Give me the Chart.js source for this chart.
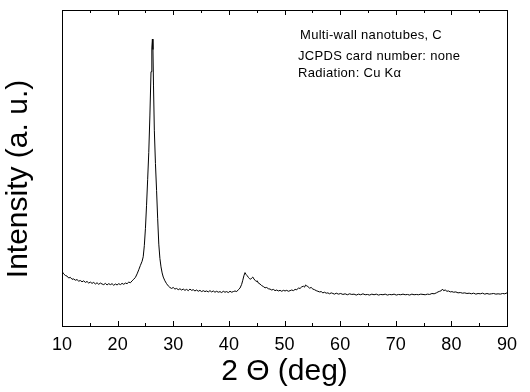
<!DOCTYPE html>
<html>
<head>
<meta charset="utf-8">
<script src="https://cdn.jsdelivr.net/npm/chart.js@4.4.1/dist/chart.umd.min.js"></script>
<style>
  html, body { margin: 0; padding: 0; background: #fff; }
  #wrap { width: 530px; height: 392px; position: relative; }
</style>
</head>
<body>
<div id="wrap"><canvas id="xrd"></canvas></div>
<script>
// XRD-Diagramm: Mehrwandige Nanoröhren (C), Cu K-alpha

const twoTheta = [
  10.0, 10.3, 10.6, 10.9, 11.2, 11.5, 11.8, 12.1, 12.4, 12.7, 13.0, 13.3, 13.6, 13.9,
  14.2, 14.5, 14.8, 15.1, 15.4, 15.7, 16.0, 16.3, 16.6, 16.9, 17.2, 17.5, 17.8, 18.1,
  18.4, 18.7, 19.0, 19.3, 19.6, 19.9, 20.2, 20.5, 20.8, 21.1, 21.4, 21.7, 22.0, 22.3,
  22.6, 22.9, 23.2, 23.5, 23.8, 24.1, 24.4, 24.6, 24.8, 25.0, 25.2, 25.4, 25.6, 25.8,
  26.0, 26.15, 26.25, 26.35, 26.45, 26.6, 26.8, 27.0, 27.2, 27.4, 27.6, 27.8, 28.0, 28.2,
  28.5, 28.8, 29.1, 29.4, 29.7, 30.0, 30.3, 30.6, 30.9, 31.2, 31.5, 31.8, 32.1, 32.4,
  32.7, 33.0, 33.3, 33.6, 33.9, 34.2, 34.5, 34.8, 35.1, 35.4, 35.7, 36.0, 36.3, 36.6,
  36.9, 37.2, 37.5, 37.8, 38.1, 38.4, 38.7, 39.0, 39.3, 39.6, 39.9, 40.2, 40.5, 40.8,
  41.1, 41.4, 41.7, 42.0, 42.3, 42.5, 42.7, 42.9, 43.1, 43.3, 43.5, 43.7, 43.9, 44.1,
  44.3, 44.5, 44.7, 44.9, 45.1, 45.3, 45.6, 45.9, 46.2, 46.5, 46.8, 47.1, 47.4, 47.7,
  48.0, 48.3, 48.6, 48.9, 49.2, 49.5, 49.8, 50.1, 50.4, 50.7, 51.0, 51.3, 51.6, 51.9,
  52.2, 52.5, 52.8, 53.1, 53.4, 53.6, 53.8, 54.0, 54.2, 54.5, 54.8, 55.1, 55.4, 55.7,
  56.0, 56.3, 56.6, 56.9, 57.2, 57.5, 57.8, 58.1, 58.4, 58.7, 59.0, 59.3, 59.7, 60.1,
  60.5, 60.9, 61.3, 61.7, 62.1, 62.5, 62.9, 63.3, 63.7, 64.1, 64.5, 64.9, 65.3, 65.7,
  66.1, 66.5, 66.9, 67.3, 67.7, 68.1, 68.5, 68.9, 69.3, 69.7, 70.1, 70.5, 70.9, 71.3,
  71.7, 72.1, 72.5, 72.9, 73.3, 73.7, 74.1, 74.5, 74.9, 75.3, 75.7, 76.1, 76.5, 76.9,
  77.3, 77.6, 77.9, 78.2, 78.4, 78.6, 78.9, 79.2, 79.5, 79.8, 80.1, 80.4, 80.8, 81.2,
  81.6, 82.0, 82.4, 82.8, 83.2, 83.6, 84.0, 84.4, 84.8, 85.2, 85.6, 86.0, 86.4, 86.8,
  87.2, 87.6, 88.0, 88.4, 88.8, 89.2, 89.6, 90.0
];

const intensity = [
  17.4, 16.6, 16.1, 15.9, 15.3, 15.5, 14.9, 15.0, 14.6, 14.8, 14.3, 14.5, 14.1, 14.4,
  13.9, 14.2, 13.7, 14.0, 13.6, 13.9, 13.4, 13.8, 13.3, 13.7, 13.4, 13.2, 13.6, 13.1,
  13.5, 13.2, 13.5, 13.0, 13.4, 13.1, 13.5, 13.2, 13.6, 13.3, 13.7, 13.5, 14.0, 13.8,
  14.4, 14.9, 15.5, 16.6, 17.9, 19.3, 20.6, 22.0, 25.5, 31.0, 38.3, 46.5, 55.0, 66.5,
  80.5, 88.0, 90.8, 87.5, 76.0, 62.0, 51.5, 43.0, 34.0, 26.0, 21.5, 18.8, 16.9, 15.6,
  14.4, 13.5, 12.8, 12.3, 12.0, 12.3, 11.8, 12.0, 11.6, 11.9, 11.5, 11.8, 11.4, 11.7,
  11.3, 11.8, 11.4, 11.6, 11.2, 11.5, 11.1, 11.4, 11.0, 11.3, 11.0, 11.2, 10.9, 11.3,
  10.9, 11.2, 10.8, 11.1, 10.8, 11.0, 10.7, 11.1, 10.8, 11.0, 10.7, 11.1, 10.8, 11.0,
  11.2, 11.0, 11.6, 12.1, 13.3, 14.6, 16.0, 17.0, 16.4, 16.0, 15.5, 15.1, 14.9, 15.3,
  15.6, 15.0, 14.6, 14.2, 14.4, 13.7, 13.4, 12.9, 12.6, 12.2, 12.3, 11.9, 11.8, 11.5,
  11.7, 11.3, 11.5, 11.2, 11.4, 11.1, 11.4, 11.2, 11.4, 11.1, 11.3, 11.5, 11.3, 11.7,
  11.6, 12.1, 12.0, 12.5, 12.7, 12.4, 13.1, 12.8, 12.6, 12.1, 12.3, 11.8, 11.6, 11.3,
  11.1, 10.9, 11.0, 10.6, 10.8, 10.5, 10.6, 10.3, 10.6, 10.4, 10.2, 10.5, 10.2, 10.4,
  10.1, 10.3, 10.0, 10.3, 10.1, 10.2, 9.9, 10.2, 10.0, 10.3, 10.0, 10.1, 9.9, 10.2,
  10.0, 10.2, 9.9, 10.1, 10.0, 10.2, 9.9, 10.1, 10.0, 10.2, 9.9, 10.1, 10.0, 10.2,
  10.0, 10.1, 9.9, 10.2, 10.0, 10.1, 10.0, 10.2, 10.1, 10.0, 10.2, 10.1, 10.4, 10.3,
  10.6, 10.9, 11.1, 11.3, 11.8, 11.3, 11.5, 11.1, 11.2, 10.9, 11.0, 10.8, 10.9, 10.6,
  10.7, 10.5, 10.6, 10.4, 10.5, 10.3, 10.5, 10.2, 10.4, 10.3, 10.5, 10.2, 10.4, 10.2,
  10.3, 10.4, 10.2, 10.3, 10.2, 10.4, 10.3, 10.6
];

const xTicks = [10, 20, 30, 40, 50, 60, 70, 80, 90];
const yTitle = "Intensity (a. u.)";
const infoLines = ["Multi-wall nanotubes, C", "JCPDS card number: none", "Radiation: Cu K\u03b1"];

const FONT = "'Liberation Sans', Arial, sans-serif";

// Rahmen, Ticks nach innen (oben + unten), Y-Titel und Infotext
const framePlugin = {
  id: "frame",
  afterDraw(chart) {
    const { ctx, chartArea: a, scales: { x } } = chart;
    ctx.save();
    ctx.strokeStyle = "#000";
    ctx.lineWidth = 1;
    ctx.strokeRect(Math.round(a.left) + 0.5, Math.round(a.top) + 0.5,
      Math.round(a.right - a.left), Math.round(a.bottom - a.top));
    ctx.beginPath();
    for (let v = x.min; v <= x.max; v += 5) {
      const px = Math.round(x.getPixelForValue(v)) + 0.5;
      const len = v % 10 === 0 ? 5 : 3;
      ctx.moveTo(px, Math.round(a.bottom));
      ctx.lineTo(px, Math.round(a.bottom) - len);
      ctx.moveTo(px, Math.round(a.top));
      ctx.lineTo(px, Math.round(a.top) + len);
    }
    ctx.stroke();

    ctx.fillStyle = "#000";
    // Y-Achsentitel, gedreht
    ctx.save();
    ctx.translate(19, 179);
    ctx.rotate(-Math.PI / 2);
    ctx.font = "30px " + FONT;
    ctx.textAlign = "center";
    ctx.textBaseline = "middle";
    ctx.fillText(yTitle, 0, 0);
    ctx.restore();

    ctx.font = "13px " + FONT;
    ctx.textBaseline = "alphabetic";
    ctx.letterSpacing = "0.3px";
    ctx.fillText(infoLines[0], a.left + 238, 39);
    ctx.fillText(infoLines[1], a.left + 236, 60);
    ctx.fillText(infoLines[2], a.left + 236, 77);
    ctx.restore();
  }
};

new Chart(document.getElementById("xrd"), {
  type: "line",
  data: {
    datasets: [{
      data: twoTheta.map((t, i) => ({ x: t, y: intensity[i] })),
      borderColor: "#000",
      borderWidth: 1,
      pointRadius: 0,
      tension: 0,
      fill: false
    }]
  },
  options: {
    responsive: true,
    maintainAspectRatio: false,
    animation: false,
    layout: { padding: { left: 62, right: 23, top: 10, bottom: 0 } },
    plugins: { legend: { display: false }, tooltip: { enabled: false } },
    scales: {
      x: {
        type: "linear",
        min: 10, max: 90,
        afterBuildTicks: (s) => { s.ticks = xTicks.map(v => ({ value: v })); },
        ticks: { color: "#000", font: { family: FONT, size: 18, lineHeight: 1.2 }, padding: 0, maxRotation: 0 },
        grid: { display: false },
        border: { display: false },
        title: {
          display: true, text: "2 \u0398 (deg)", color: "#000",
          font: { family: FONT, size: 30, lineHeight: 1 }, padding: { top: 1, bottom: 5 }
        }
      },
      y: {
        display: false,
        min: 0, max: 100
      }
    }
  },
  plugins: [framePlugin]
});
</script>
</body>
</html>
